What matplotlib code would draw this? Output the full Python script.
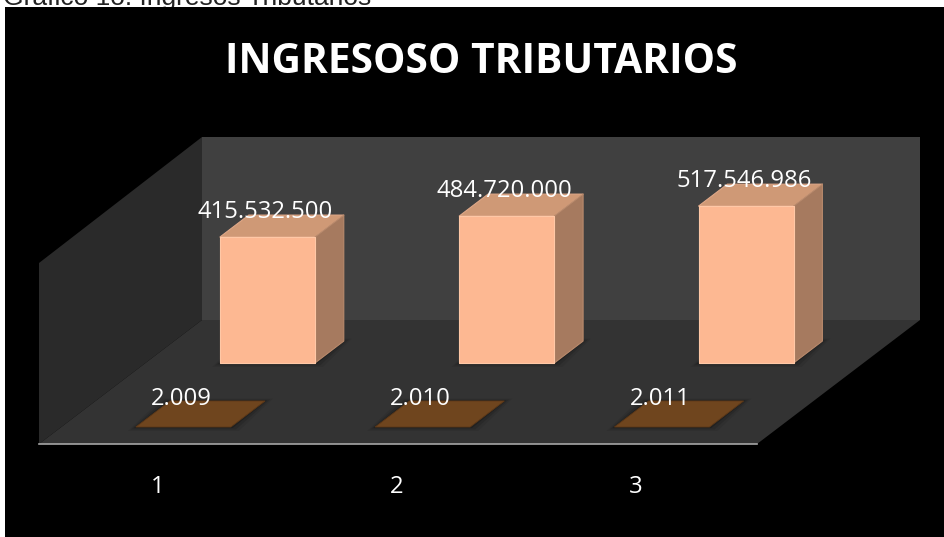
import matplotlib
matplotlib.use("Agg")
import matplotlib.pyplot as plt
from matplotlib.patches import Polygon

# data
categories = ["1", "2", "3"]
values = [415532500, 484720000, 517546986]
value_labels = ["415.532.500", "484.720.000", "517.546.986"]
years = [2009, 2010, 2011]
year_labels = ["2.009", "2.010", "2.011"]
title = "INGRESOSO TRIBUTARIOS"
caption = "Gráfico 1o: Ingresos Tributarios"

# oblique projection, all in image pixels
left, floor_y = 39, 444
cat_step = 239.3
cat_start = 74.5
bar_w = 95
px_per_unit = 126 / 415532500
depth_dx, depth_dy = 163, -124
wall_w, wall_h = 718, 181


def proj(x, depth, h=0.0):
    return (left + x + depth * depth_dx, floor_y + depth * depth_dy - h)


def box(ax, cat, d0, d1, height, front, top, side, z=3):
    x0 = cat_start + cat * cat_step
    x1 = x0 + bar_w
    h = height * px_per_unit
    # soft shadow on the floor
    for grow, a in [(8, .07), (5, .12), (2, .2)]:
        ax.add_patch(Polygon([(proj(x0, d0)[0] - grow, proj(x0, d0)[1] + grow * .5),
                              (proj(x1, d0)[0] + grow, proj(x1, d0)[1] + grow * .5),
                              (proj(x1, d1)[0] + grow, proj(x1, d1)[1] - grow * .3),
                              (proj(x0, d1)[0] - grow, proj(x0, d1)[1] - grow * .3)],
                             fc="black", ec="none", alpha=a, zorder=z - 1))
    if h > 2:
        ax.add_patch(Polygon([proj(x0, d0, h), proj(x1, d0, h), proj(x1, d1, h), proj(x0, d1, h)],
                             fc=top, ec="#e0a888", lw=.8, joinstyle="round", zorder=z))
        ax.add_patch(Polygon([proj(x1, d0), proj(x1, d1), proj(x1, d1, h), proj(x1, d0, h)],
                             fc=side, ec="#b98a6c", lw=.8, joinstyle="round", zorder=z))
        ax.add_patch(Polygon([proj(x0, d0), proj(x1, d0), proj(x1, d0, h), proj(x0, d0, h)],
                             fc=front, ec="#ffc8a6", lw=.8, joinstyle="round", zorder=z + 1))
    else:
        ax.add_patch(Polygon([proj(x0, d0), proj(x1, d0), proj(x1, d1), proj(x0, d1)],
                             fc=top, ec="#5d3817", lw=.6, zorder=z))


fig = plt.figure(figsize=(9.44, 5.37), dpi=100, facecolor="white")
ax = fig.add_axes([0, 0, 1, 1])
ax.set_xlim(0, 944)
ax.set_ylim(537, 0)
ax.axis("off")

# caption is cropped by the top of the picture and the black panel, as in the source
ax.text(3, 5, caption, family="Liberation Sans", fontsize=19, color="#222222",
        ha="left", va="baseline", zorder=0, clip_on=False)
ax.add_patch(Polygon([(5, 7), (944, 7), (944, 537), (5, 537)], fc="black", ec="none", zorder=1))

# walls and floor
ax.add_patch(Polygon([proj(0, 1), proj(wall_w, 1), proj(wall_w, 1, wall_h + 2), proj(0, 1, wall_h + 2)],
                     fc="#404040", ec="none", zorder=2))
ax.add_patch(Polygon([proj(0, 0), proj(0, 1), proj(0, 1, wall_h + 2), proj(0, 0, wall_h)],
                     fc="#2a2a2a", ec="none", zorder=2))
ax.add_patch(Polygon([proj(0, 0), proj(wall_w, 0), proj(wall_w, 1), proj(0, 1)],
                     fc="#333333", ec="none", zorder=2))
ax.plot(*zip(proj(0, 0), proj(wall_w, 0)), color="#a6a6a6", lw=1.2, zorder=2.5)

# year tiles in the front row, value bars in the back row
for i, y in enumerate(years):
    box(ax, i, 0.137, 0.347, y, "#6f451e", "#6f451e", "#6f451e")
    x, yy = proj(cat_start + i * cat_step + bar_w / 2, 0.137)
    ax.text(x - 2, yy - 22, year_labels[i], family="Open Sans", fontsize=17.2, color="white",
            ha="center", va="baseline", zorder=8)
    ax.text(x - 26, 493, categories[i], family="Open Sans", fontsize=17.2,
            color="white", ha="center", va="baseline", zorder=8)

for i, v in enumerate(values):
    box(ax, i, 0.653, 0.83, v, "#fdb892", "#cf9976", "#a67a5f", z=4)
    x, yy = proj(cat_start + i * cat_step + bar_w / 2, 0.653, v * px_per_unit)
    ax.text(x - 2, yy - 19.5, value_labels[i], family="Open Sans", fontsize=17.2, color="white",
            ha="center", va="baseline", zorder=8)

ax.text(481.5, 72.7, title, family="Open Sans", fontweight="bold", fontsize=29.3, color="white",
        ha="center", va="baseline", zorder=8)

fig.savefig("out.png", dpi=100, facecolor="white")
